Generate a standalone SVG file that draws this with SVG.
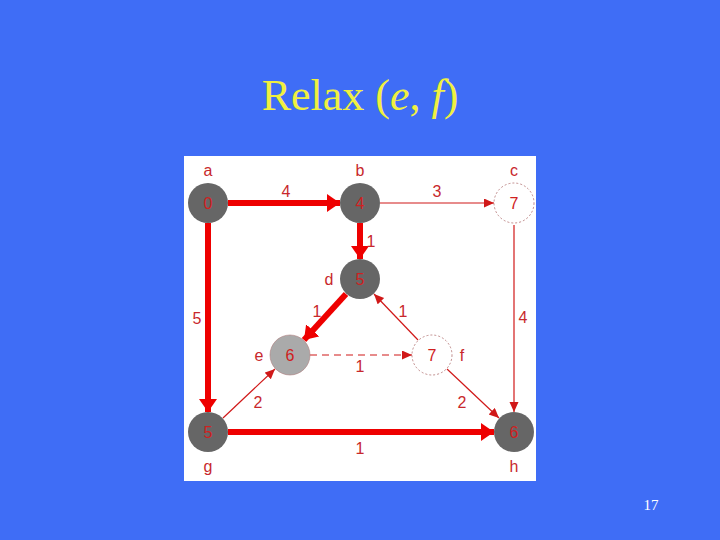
<svg xmlns="http://www.w3.org/2000/svg" width="720" height="540" viewBox="0 0 720 540">
<style>
.lbl{font-family:"Liberation Sans",Arial,sans-serif;font-size:16px;fill:#c8282c;text-anchor:middle;dominant-baseline:central}
.num{font-family:"Liberation Sans",Arial,sans-serif;font-size:16px;fill:#d02020;text-anchor:middle;dominant-baseline:central}
.thick{stroke:#ee0000;stroke-width:6;fill:none}
.thin{stroke:#d01818;stroke-width:1.2;fill:none}
.dark{fill:#666666}
.open{fill:#ffffff;stroke:#b07070;stroke-width:0.8;stroke-dasharray:2 2}
</style>
<defs>
<marker id="big" markerUnits="userSpaceOnUse" markerWidth="16" markerHeight="20" refX="13" refY="9" orient="auto">
<path d="M0,0 L13,9 L0,18 z" fill="#ee0000"/>
</marker>
<marker id="small" markerUnits="userSpaceOnUse" markerWidth="12" markerHeight="10" refX="10" refY="4.5" orient="auto">
<path d="M0,0 L10,4.5 L0,9 z" fill="#d01818"/>
</marker>
</defs>
<rect width="720" height="540" fill="#3f6df6"/>
<text x="360" y="110" font-family="Liberation Serif,'Times New Roman',serif" font-size="44" fill="#f0f040" text-anchor="middle">Relax (<tspan font-style="italic">e</tspan>, <tspan font-style="italic">f</tspan>)</text>
<text x="651" y="510" font-family="Liberation Serif,'Times New Roman',serif" font-size="15" fill="#ffffff" text-anchor="middle">17</text>
<rect x="184" y="156" width="352" height="325" fill="#ffffff"/>
<g id="edges">
<line class="thick" x1="228" y1="203" x2="340" y2="203" marker-end="url(#big)"/>
<line class="thin" x1="380" y1="203" x2="494" y2="203" marker-end="url(#small)"/>
<line class="thick" x1="360" y1="223" x2="360" y2="259" marker-end="url(#big)"/>
<line class="thick" x1="208" y1="223" x2="208" y2="412" marker-end="url(#big)"/>
<line class="thin" x1="514" y1="225" x2="514" y2="412" marker-end="url(#small)"/>
<line class="thick" x1="346" y1="294" x2="304" y2="340" marker-end="url(#big)"/>
<line class="thin" x1="418" y1="340" x2="374" y2="294" marker-end="url(#small)"/>
<line class="thin" x1="310" y1="355" x2="412" y2="355" stroke-dasharray="7 5" marker-end="url(#small)"/>
<line class="thin" x1="223" y1="418" x2="275" y2="369" marker-end="url(#small)"/>
<line class="thin" x1="447" y1="369" x2="499" y2="418" marker-end="url(#small)"/>
<line class="thick" x1="228" y1="432" x2="494" y2="432" marker-end="url(#big)"/>
<text class="lbl" x="286" y="191">4</text>
<text class="lbl" x="437" y="191">3</text>
<text class="lbl" x="371" y="241">1</text>
<text class="lbl" x="197" y="318">5</text>
<text class="lbl" x="523" y="317">4</text>
<text class="lbl" x="317" y="311">1</text>
<text class="lbl" x="403" y="311">1</text>
<text class="lbl" x="360" y="366">1</text>
<text class="lbl" x="258" y="402">2</text>
<text class="lbl" x="462" y="402">2</text>
<text class="lbl" x="360" y="448">1</text>
</g>
<g id="a"><circle class="dark" cx="208" cy="203" r="20"/><text class="num" x="208" y="203">0</text><text class="lbl" x="208" y="170">a</text></g>
<g id="b"><circle class="dark" cx="360" cy="203" r="20"/><text class="num" x="360" y="203">4</text><text class="lbl" x="360" y="170">b</text></g>
<g id="c"><circle class="open" cx="514" cy="203" r="20"/><text class="num" x="514" y="203">7</text><text class="lbl" x="514" y="170">c</text></g>
<g id="d"><circle class="dark" cx="360" cy="279" r="20"/><text class="num" x="360" y="279">5</text><text class="lbl" x="329" y="279">d</text></g>
<g id="e"><circle cx="290" cy="355" r="20" fill="#aaaaaa" stroke="#b08080" stroke-width="0.6"/><text class="num" x="290" y="355">6</text><text class="lbl" x="259" y="355">e</text></g>
<g id="f"><circle class="open" cx="432" cy="355" r="20"/><text class="num" x="432" y="355">7</text><text class="lbl" x="462" y="355">f</text></g>
<g id="g"><circle class="dark" cx="208" cy="432" r="20"/><text class="num" x="208" y="432">5</text><text class="lbl" x="208" y="466">g</text></g>
<g id="h"><circle class="dark" cx="514" cy="432" r="20"/><text class="num" x="514" y="432">6</text><text class="lbl" x="514" y="466">h</text></g>
</svg>
